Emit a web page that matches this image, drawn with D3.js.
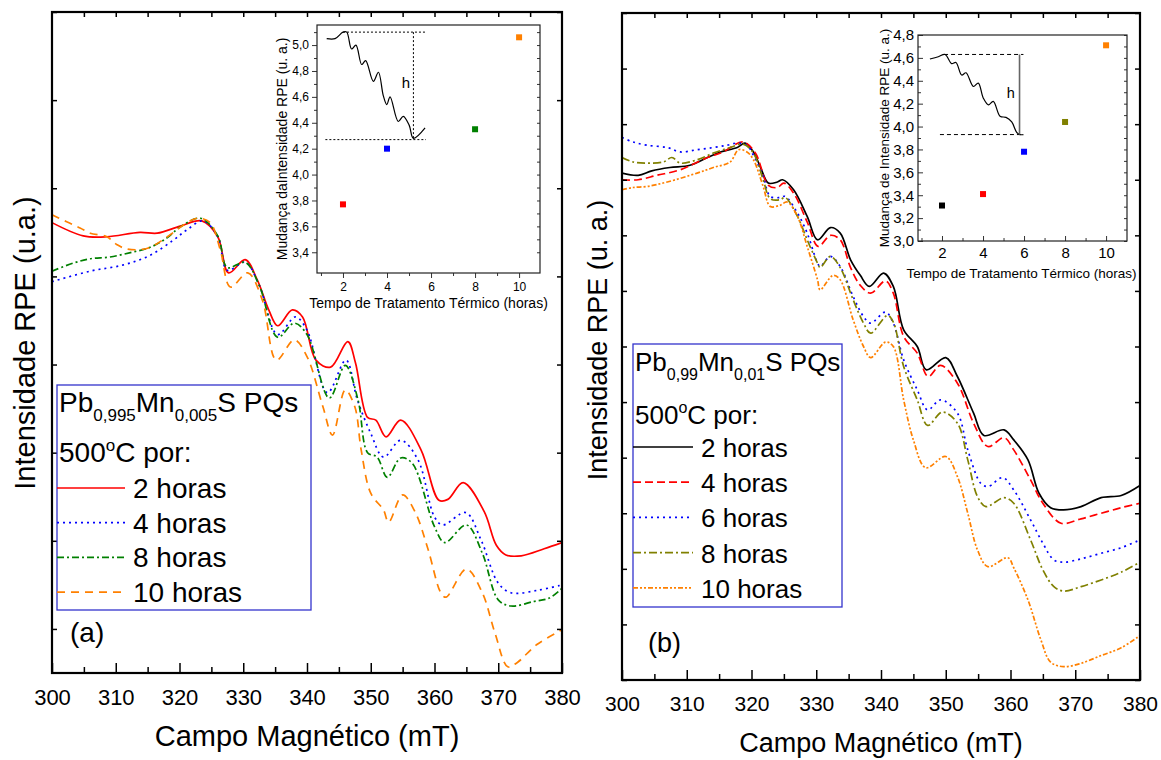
<!DOCTYPE html>
<html>
<head>
<meta charset="utf-8">
<script src="https://cdn.jsdelivr.net/npm/d3@7"></script>
<style>
body { margin: 0; background: #fff; }
text { font-family: "Liberation Sans", Arial, sans-serif; }
</style>
</head>
<body>
<svg id="chart" width="1161" height="760"></svg>
<script>
// campo magnetico (mT) vs intensidade RPE (u.a.)
var fieldTicks = [300, 310, 320, 330, 340, 350, 360, 370, 380];

// painel (a): Pb0,995Mn0,005S
var a2h = [[300,51.1],[304.9,49.6],[308.6,49.5],[313.8,50.0],[316.5,49.9],[320.1,50.7],[323.5,51.3],[326,49.5],[327.7,45.4],[330.3,46.9],[332.2,44.6],[334,41.2],[335.4,39.4],[337.7,41.2],[339.3,40.4],[341.4,35.5],[343.7,34.7],[346.4,37.6],[347.6,35.2],[349.5,29.0],[350.8,28.7],[352.4,26.8],[354.7,28.7],[357.9,25.3],[360.7,19.6],[362.1,19.7],[364.5,21.6],[367.8,18.3],[369.7,14.5],[371.2,13.4],[373.6,13.3],[377.2,14.1],[380,14.8]];
var a4h = [[300,44.4],[306,45.6],[311.2,46.3],[315.4,47.4],[319,49.1],[321.2,50.3],[323.7,51.3],[326,49.5],[327.5,45.7],[330.3,46.6],[332.5,44.0],[335.4,38.4],[338.2,40.4],[340,38.9],[343.2,31.8],[346.1,35.5],[347.9,31.0],[350,27.2],[352,24.5],[354.7,26.4],[357.4,24.2],[360,17.7],[361.3,16.8],[364.9,18.2],[367.3,15.1],[370,10.2],[372,9.1],[376.3,9.4],[380,10.0]];
var a8h = [[300,45.6],[303.3,46.5],[306,47.0],[309.1,47.2],[312.3,47.7],[315.4,48.3],[318.1,49.4],[320.1,50.6],[323.3,51.6],[326,49.6],[327.5,46.0],[330.3,46.6],[332.5,44.0],[335.4,38.1],[338,39.7],[340,38.4],[343.5,31.2],[346,34.9],[348,31.0],[349.5,25.0],[351,24.5],[352.6,22.2],[354.7,24.4],[356.5,23.8],[360,16.6],[361.6,14.8],[365,16.8],[367.5,13.6],[370,8.3],[372,7.6],[375.5,8.1],[378,8.5],[380,9.6]];
var a10h = [[300,52.0],[302.3,51.2],[304.4,50.5],[306,49.9],[308.6,49.5],[310.2,48.6],[311.8,48.1],[315,48.2],[318.1,49.5],[320.6,50.8],[322.8,51.6],[324.8,51.1],[326.4,48.0],[328,43.8],[330.7,45.4],[333,42.3],[335.2,35.5],[338,37.8],[340,35.9],[342.5,30.2],[344,27.0],[346,32.1],[347.5,30.2],[348.5,25.3],[350,20.4],[352,18.5],[352.8,17.1],[355,20.2],[357,18.2],[359,14.0],[361,9.1],[361.8,8.6],[365,11.8],[367.5,9.1],[369.5,4.5],[371.5,0.7],[373,1.2],[376,3.2],[380,4.9]];

// painel (b): Pb0,99Mn0,01S
var b2h = [[300,45.6],[302.5,45.4],[304.6,45.8],[307.4,46.1],[310.5,46.3],[313.2,47.0],[315.2,47.5],[317.8,47.9],[319,48.3],[320.3,47.5],[321.4,46.1],[322.6,44.7],[324,44.8],[324.8,45.0],[326.5,44.1],[328.6,41.7],[330.2,39.6],[332.2,40.7],[333.7,40.2],[335.3,37.8],[336.8,36.4],[338.2,35.4],[340.4,36.6],[341.9,35.4],[343.5,31.5],[345.6,30.0],[347,27.9],[350,29.0],[351.8,27.3],[354.3,24.0],[355.9,22.0],[359,22.5],[360.5,21.6],[362.7,19.8],[364.4,16.8],[366.2,15.5],[368.2,15.3],[370.9,15.6],[374,16.4],[377.1,16.6],[380,17.5]];
var b4h = [[300,45.0],[302.5,45.0],[305.4,45.4],[309,45.9],[313.2,47.0],[315.6,47.5],[318.7,48.4],[320.6,47.4],[322.6,44.5],[324,44.3],[325,44.7],[326.5,43.8],[328.6,41.2],[330.3,39.0],[332.2,40.0],[333.7,39.6],[335.3,37.1],[336.8,35.5],[338.4,34.8],[340.7,35.9],[341.9,34.8],[343.5,30.9],[345.6,29.4],[347.3,27.3],[349.2,28.3],[351.8,26.7],[354.3,23.1],[356.5,21.0],[359,21.8],[360.5,20.7],[363.1,18.0],[365,15.9],[367.8,14.1],[370.9,14.5],[374,15.0],[377.1,15.5],[380,15.9]];
var b6h = [[300,48.8],[301.7,48.4],[303.9,48.1],[307,47.9],[309,47.5],[311.6,47.7],[314.1,47.9],[316.2,48.1],[317.8,48.3],[319.3,48.1],[320.3,47.2],[321.8,45.3],[322.9,43.5],[324.4,43.4],[325.2,43.5],[327.1,42.0],[328.6,40.2],[330.2,37.5],[330.6,37.2],[332.2,38.1],[333.7,37.2],[335.7,34.5],[337.3,32.7],[338.4,32.1],[340.7,33.1],[341.9,32.1],[343.5,28.8],[345.6,26.1],[347.2,24.3],[349.2,25.2],[351.8,24.0],[353.4,20.7],[355.4,17.7],[356.5,17.4],[358.8,18.2],[360.5,17.1],[363.1,14.4],[365,12.3],[366.7,10.8],[368.2,10.6],[370.9,10.9],[374,11.4],[377.1,11.9],[380,12.6]];
var b8h = [[300,47.0],[301.7,46.6],[303.9,46.5],[306.4,46.6],[307.7,47.0],[309,46.5],[311.6,46.8],[314.1,47.4],[316.7,47.9],[318.7,48.2],[320.3,47.4],[321.8,45.0],[322.9,43.3],[324.4,43.2],[325.2,43.4],[327.1,41.7],[328.6,39.6],[330.2,37.5],[330.6,37.1],[332.2,38.1],[333.7,37.1],[335.7,34.2],[337.3,32.1],[338.4,31.2],[341,32.8],[341.9,32.2],[343.5,28.2],[345.6,25.2],[347.2,22.9],[349.5,24.1],[351.8,23.1],[353.4,19.8],[354.9,16.5],[356.2,15.6],[359,16.4],[360.5,15.9],[363.1,12.6],[365,9.9],[366.7,8.4],[368.2,8.0],[370.9,8.4],[374,9.0],[377.1,9.7],[380,10.6]];
var b10h = [[300,44.1],[301.7,44.3],[303.9,44.4],[307,44.8],[311.6,45.6],[314.1,46.1],[316.7,46.6],[318,47.7],[319.3,47.5],[320.3,46.8],[321.8,44.4],[322.9,42.6],[324.4,42.7],[325.5,43.0],[327.1,41.7],[328.6,39.0],[330.2,36.0],[330.6,35.1],[332.6,36.4],[333.7,36.0],[335.7,32.4],[337.3,30.0],[338.4,29.0],[340.7,30.4],[341.9,30.0],[343.5,25.2],[345,21.6],[346.9,19.1],[350,20.1],[351.8,18.3],[353.4,15.0],[354.9,11.7],[356.5,10.2],[359.6,11.0],[360.5,10.1],[362.7,7.2],[364.7,3.6],[366.2,1.6],[368.2,1.2],[370.9,1.5],[374,2.2],[377.1,2.9],[380,4.0]];

var labelsA = ["2 horas", "4 horas", "8 horas", "10 horas"];
var labelsB = ["2 horas", "4 horas", "6 horas", "8 horas", "10 horas"];

// insets: mudanca de intensidade vs tempo de tratamento
var hoursA = [2, 4, 8, 10];
var changeA = [3.77, 4.20, 4.35, 5.06];
var hoursB = [2, 4, 6, 8, 10];
var changeB = [3.31, 3.41, 3.78, 4.04, 4.71];

// little sketch of a spectrum drawn inside each inset (inset units)
var sketchA = [[1.26,5.05],[1.64,5.05],[2.0,5.10],[2.17,5.10],[2.39,4.97],[2.59,5.0],[2.85,4.85],[3.03,4.88],[3.38,4.72],[3.61,4.79],[3.83,4.61],[3.99,4.54],[4.14,4.60],[4.51,4.41],[4.74,4.45],[5.01,4.38],[5.2,4.28],[5.73,4.36]];
var sketchB = [[1.41,4.59],[1.82,4.61],[2.15,4.63],[2.47,4.55],[2.68,4.56],[2.96,4.45],[3.17,4.47],[3.53,4.35],[3.77,4.38],[4.01,4.25],[4.26,4.19],[4.5,4.22],[4.83,4.09],[5.12,4.08],[5.4,4.04],[5.64,3.95],[5.8,3.93],[5.97,3.93]];

var svg = d3.select("#chart");
var comma = function(d) { return d3.format(".1f")(d).replace(".", ","); };

function drawPanel(p) {
  var x = d3.scaleLinear().domain([300, 380]).range([p.left, p.right]);
  var y = d3.scaleLinear().domain(p.yDomain).range([p.bottom, p.top]);
  var g = svg.append("g");

  svg.append("clipPath").attr("id", "clip" + p.id)
    .append("rect")
      .attr("x", p.left).attr("y", p.top)
      .attr("width", p.right - p.left).attr("height", p.bottom - p.top);

  var line = d3.line()
    .x(function(d) { return x(d[0]); })
    .y(function(d) { return y(d[1]); })
    .curve(d3.curveCatmullRom.alpha(0.5));

  g.append("g").attr("clip-path", "url(#clip" + p.id + ")")
    .selectAll("path")
    .data(p.series)
    .enter().append("path")
      .attr("d", function(d) { return line(d.values); })
      .attr("fill", "none")
      .attr("stroke", function(d) { return d.color; })
      .attr("stroke-width", 1.7)
      .attr("stroke-dasharray", function(d) { return d.dash; });

  // bottom axis, ticks pointing in
  var minor = d3.range(305, 380, 10);
  g.append("g").attr("transform", "translate(0," + p.bottom + ")")
    .call(d3.axisBottom(x).tickValues(fieldTicks).tickSizeInner(-10).tickSizeOuter(0)
      .tickPadding(p.tickPad).tickFormat(d3.format("d")))
    .attr("font-size", p.tickFont).attr("font-family", null)
    .call(function(s) { s.select(".domain").remove(); });
  g.append("g").attr("transform", "translate(0," + p.bottom + ")")
    .call(d3.axisBottom(x).tickValues(minor).tickSizeInner(-6).tickSizeOuter(0).tickFormat(""))
    .call(function(s) { s.select(".domain").remove(); });
  // top axis
  g.append("g").attr("transform", "translate(0," + p.top + ")")
    .call(d3.axisTop(x).tickValues(d3.range(305, 380, 5)).tickSizeInner(-5).tickSizeOuter(0).tickFormat(""))
    .call(function(s) { s.select(".domain").remove(); });
  // left and right, no labels
  g.append("g").attr("transform", "translate(" + p.left + ",0)")
    .call(d3.axisLeft(y).tickValues(p.yTicks).tickSizeInner(-5).tickSizeOuter(0).tickFormat(""))
    .call(function(s) { s.select(".domain").remove(); });
  g.append("g").attr("transform", "translate(" + p.right + ",0)")
    .call(d3.axisRight(y).tickValues(p.yTicks).tickSizeInner(-5).tickSizeOuter(0).tickFormat(""))
    .call(function(s) { s.select(".domain").remove(); });
  g.selectAll(".tick line").attr("stroke-width", 1.5);

  g.append("rect")
    .attr("x", p.left).attr("y", p.top)
    .attr("width", p.right - p.left).attr("height", p.bottom - p.top)
    .attr("fill", "none").attr("stroke", "#000").attr("stroke-width", 2.2);

  g.append("text")
    .attr("x", (p.left + p.right) / 2).attr("y", p.xLabelY)
    .attr("text-anchor", "middle").attr("font-size", p.labelFont)
    .text("Campo Magnético (mT)");
  g.append("text")
    .attr("transform", "translate(" + p.yLabelX + "," + p.yLabelY + ") rotate(-90)")
    .attr("text-anchor", "middle").attr("font-size", p.labelFont)
    .text(p.yLabel);

  g.append("text").attr("x", p.tagX).attr("y", p.tagY)
    .attr("font-size", p.tagFont).text(p.tag);
}

function drawLegend(l) {
  var g = svg.append("g");
  g.append("rect")
    .attr("x", l.x).attr("y", l.y).attr("width", l.w).attr("height", l.h)
    .attr("fill", "#fff").attr("stroke", "#3333cc").attr("stroke-width", 1.3);

  var t = g.append("text").attr("x", l.x + 2).attr("y", l.titleY).attr("font-size", l.font);
  t.append("tspan").text("Pb");
  t.append("tspan").attr("dy", l.subDy).attr("font-size", l.subFont).text(l.sub1);
  t.append("tspan").attr("dy", -l.subDy).text("Mn");
  t.append("tspan").attr("dy", l.subDy).attr("font-size", l.subFont).text(l.sub2);
  t.append("tspan").attr("dy", -l.subDy).text("S PQs");

  var t2 = g.append("text").attr("x", l.x + 2).attr("y", l.tempY).attr("font-size", l.font);
  t2.append("tspan").text("500");
  t2.append("tspan").attr("dy", -11).attr("font-size", l.subFont).text("o");
  t2.append("tspan").attr("dy", 11).text("C por:");

  var rows = g.selectAll("g.row")
    .data(l.series)
    .enter().append("g").attr("class", "row")
      .attr("transform", function(d, i) { return "translate(0," + (l.rowY + i * l.rowStep) + ")"; });
  rows.append("line")
    .attr("x1", l.x).attr("x2", l.x + l.lineLen)
    .attr("stroke", function(d) { return d.color; })
    .attr("stroke-width", 1.7)
    .attr("stroke-dasharray", function(d) { return d.dash; });
  rows.append("text")
    .attr("x", l.x + l.lineLen + 8).attr("y", 10)
    .attr("font-size", l.font)
    .text(function(d) { return d.label; });
}

function drawInset(n) {
  var x = d3.scaleLinear().domain(n.xDomain).range([n.left, n.right]);
  var y = d3.scaleLinear().domain(n.yDomain).range([n.bottom, n.top]);
  var g = svg.append("g");

  var yMajor = d3.range(n.yFrom, n.yDomain[1] + 0.001, 0.2);
  var yMinor = d3.range(n.yFrom + 0.1, n.yDomain[1], 0.2);
  var bdir = n.outTicks ? 1 : -1;

  g.append("g").attr("transform", "translate(0," + n.bottom + ")")
    .call(d3.axisBottom(x).tickValues([2, 4, 6, 8, 10]).tickSizeInner(5 * bdir).tickSizeOuter(0)
      .tickPadding(n.xPad).tickFormat(d3.format("d")))
    .attr("font-size", n.tickFont).attr("font-family", null)
    .call(function(s) { s.select(".domain").remove(); });
  g.append("g").attr("transform", "translate(0," + n.bottom + ")")
    .call(d3.axisBottom(x).tickValues([1, 3, 5, 7, 9]).tickSizeInner(3 * bdir).tickSizeOuter(0).tickFormat(""))
    .call(function(s) { s.select(".domain").remove(); });
  g.append("g").attr("transform", "translate(" + n.left + ",0)")
    .call(d3.axisLeft(y).tickValues(yMajor).tickSizeInner(5 * bdir).tickSizeOuter(0)
      .tickPadding(n.yPad).tickFormat(comma))
    .attr("font-size", n.tickFont).attr("font-family", null)
    .call(function(s) { s.select(".domain").remove(); });
  g.append("g").attr("transform", "translate(" + n.left + ",0)")
    .call(d3.axisLeft(y).tickValues(yMinor).tickSizeInner(3 * bdir).tickSizeOuter(0).tickFormat(""))
    .call(function(s) { s.select(".domain").remove(); });
  g.append("g").attr("transform", "translate(" + n.right + ",0)")
    .call(d3.axisRight(y).tickValues(yMajor.concat(yMinor)).tickSizeInner(-3).tickSizeOuter(0).tickFormat(""))
    .call(function(s) { s.select(".domain").remove(); });
  g.selectAll(".tick line").attr("stroke", "#333");

  g.append("rect")
    .attr("x", n.left).attr("y", n.top)
    .attr("width", n.right - n.left).attr("height", n.bottom - n.top)
    .attr("fill", "none").attr("stroke", "#222").attr("stroke-width", 1.2);

  // sketch of the spectrum and the height h
  var line = d3.line()
    .x(function(d) { return x(d[0]); })
    .y(function(d) { return y(d[1]); })
    .curve(d3.curveCatmullRom.alpha(0.5));
  g.append("path").attr("d", line(n.sketch))
    .attr("fill", "none").attr("stroke", "#000").attr("stroke-width", 1.2);
  g.append("line")
    .attr("x1", x(n.hiFrom)).attr("x2", x(n.guideEnd))
    .attr("y1", y(n.hiVal)).attr("y2", y(n.hiVal))
    .attr("stroke", "#000").attr("stroke-width", 1).attr("stroke-dasharray", n.guideDash);
  g.append("line")
    .attr("x1", x(n.loFrom)).attr("x2", x(n.guideEnd))
    .attr("y1", y(n.loVal)).attr("y2", y(n.loVal))
    .attr("stroke", "#000").attr("stroke-width", 1).attr("stroke-dasharray", n.guideDash);
  g.append("line")
    .attr("x1", x(n.hX)).attr("x2", x(n.hX))
    .attr("y1", y(n.hiVal)).attr("y2", y(n.loVal))
    .attr("stroke", n.hColor).attr("stroke-width", n.hWidth).attr("stroke-dasharray", n.hDash);
  g.append("text").attr("x", x(n.hTextX)).attr("y", y(n.hTextY))
    .attr("font-size", n.labelFont + 1).attr("text-anchor", "middle").text("h");

  g.selectAll("rect.pt")
    .data(n.hours)
    .enter().append("rect").attr("class", "pt")
      .attr("x", function(d) { return x(d) - 3; })
      .attr("y", function(d, i) { return y(n.values[i]) - 3; })
      .attr("width", 6).attr("height", 6)
      .attr("fill", function(d, i) { return n.colors[i]; });

  g.append("text")
    .attr("x", (n.left + n.right) / 2 + n.xLabelShift).attr("y", n.xLabelY)
    .attr("text-anchor", "middle").attr("font-size", n.labelFont)
    .text("Tempo de Tratamento Térmico (horas)");
  g.append("text")
    .attr("transform", "translate(" + n.yLabelX + "," + ((n.top + n.bottom) / 2) + ") rotate(-90)")
    .attr("text-anchor", "middle").attr("font-size", n.labelFont)
    .text(n.yLabel);
}

var colA = ["#ff0000", "#0000ff", "#008000", "#ff8000"];
var dashA = [null, "2,4", "7,3,2,3", "8,6"];
var seriesA = [a2h, a4h, a8h, a10h].map(function(v, i) {
  return { values: v, color: colA[i], dash: dashA[i], label: labelsA[i] };
});
var colB = ["#000000", "#ff0000", "#0000ff", "#808000", "#ff8000"];
var dashB = [null, "8,4", "2,4", "8,3,2,3", "5,2,2,2,2,2"];
var seriesB = [b2h, b4h, b6h, b8h, b10h].map(function(v, i) {
  return { values: v, color: colB[i], dash: dashB[i], label: labelsB[i] };
});

drawPanel({ id: "a", left: 52, right: 562, top: 12, bottom: 673,
  yDomain: [0, 75], yTicks: d3.range(5, 76, 10), series: seriesA,
  tickFont: 22, tickPad: 16, labelFont: 29, xLabelY: 746,
  yLabel: "Intensidade RPE (u.a.)", yLabelX: 35, yLabelY: 343,
  tag: "(a)", tagX: 70, tagY: 642, tagFont: 28 });
drawPanel({ id: "b", left: 622, right: 1140, top: 13, bottom: 680,
  yDomain: [0, 60], yTicks: d3.range(0, 61, 5), series: seriesB,
  tickFont: 21, tickPad: 16, labelFont: 27, xLabelY: 752,
  yLabel: "Intensidade RPE (u. a.)", yLabelX: 607, yLabelY: 340,
  tag: "(b)", tagX: 648, tagY: 652, tagFont: 27 });

drawLegend({ x: 57, y: 385, w: 254, h: 225, font: 28, subFont: 17, subDy: 9,
  sub1: "0,995", sub2: "0,005", titleY: 412, tempY: 462,
  rowY: 488, rowStep: 34.7, lineLen: 68, series: seriesA });
drawLegend({ x: 633, y: 344, w: 209, h: 263, font: 26, subFont: 16, subDy: 9,
  sub1: "0,99", sub2: "0,01", titleY: 371, tempY: 424,
  rowY: 447, rowStep: 35.2, lineLen: 60, series: seriesB });

drawInset({ left: 317, right: 540, top: 25, bottom: 273,
  xDomain: [0.82, 10.95], yDomain: [3.24, 5.155], yFrom: 3.4,
  hours: hoursA, values: changeA, colors: colA, outTicks: true,
  tickFont: 12, xPad: 4, yPad: 3, labelFont: 14,
  xLabelY: 308, xLabelShift: 0, yLabelX: 287,
  yLabel: "Mudança daIntensidade RPE (u. a.)",
  sketch: sketchA, hiVal: 5.10, loVal: 4.27, hiFrom: 2.0, loFrom: 1.2, guideEnd: 5.77,
  guideDash: "2,2", hX: 5.2, hColor: "#000", hWidth: 1, hDash: "2,2",
  hTextX: 4.86, hTextY: 4.67 });
drawInset({ left: 918, right: 1127, top: 35, bottom: 241,
  xDomain: [0.83, 11.02], yDomain: [3.0, 4.8], yFrom: 3.0,
  hours: hoursB, values: changeB, colors: colB, outTicks: false,
  tickFont: 15, xPad: 6, yPad: 4, labelFont: 13.5,
  xLabelY: 278, xLabelShift: -1, yLabelX: 889,
  yLabel: "Mudança de Intensidade RPE (u. a.)",
  sketch: sketchB, hiVal: 4.63, loVal: 3.93, hiFrom: 2.1, loFrom: 1.9, guideEnd: 5.97,
  guideDash: "4,3", hX: 5.78, hColor: "#666", hWidth: 1.6, hDash: null,
  hTextX: 5.35, hTextY: 4.25 });
</script>
</body>
</html>
